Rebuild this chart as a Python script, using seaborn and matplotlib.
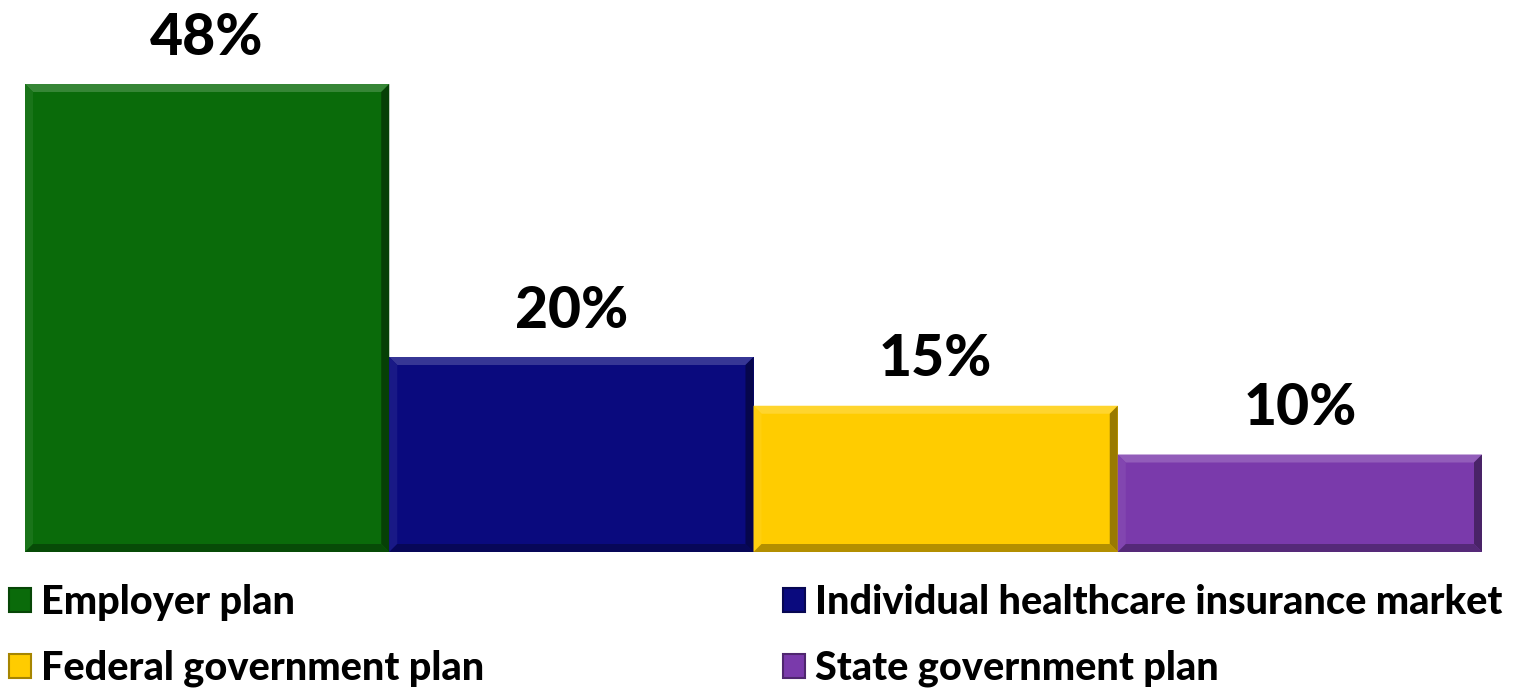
import matplotlib
matplotlib.use("Agg")
import matplotlib.pyplot as plt
import matplotlib.colors as mcolors
from matplotlib.patches import Polygon, Rectangle
import seaborn as sns
import pandas as pd

categories = ["Employer plan", "Individual healthcare insurance market",
              "Federal government plan", "State government plan"]
values = [48, 20, 15, 10]
labels = ["48%", "20%", "15%", "10%"]
colors = ["#0a6b0a", "#0a0a7e", "#ffcc00", "#7a3aab"]

sns.set_theme(style="white")
plt.rcParams["font.family"] = ["Lato", "DejaVu Sans"]
plt.rcParams["text.color"] = "black"

W, H = 1517, 688
fig = plt.figure(figsize=(W / 100, H / 100), dpi=100)
ax = fig.add_axes([25 / W, (H - 552) / H, 1457 / W, (552 - 84) / H])

df = pd.DataFrame({"cat": categories, "val": values})
sns.barplot(data=df, x="cat", y="val", hue="cat", palette=colors,
            width=1.0, legend=False, ax=ax, saturation=1, edgecolor="none")
ax.set_ylim(0, 48)
ax.set_xlim(-0.5, len(categories) - 0.5)
ax.axis("off")

# value labels above each bar
for i, (v, lab) in enumerate(zip(values, labels)):
    ax.annotate(lab, (i, v), xytext=(0, 14), textcoords="offset points",
                ha="center", va="bottom", fontsize=41, fontweight="black",
                clip_on=False, color="black")


def shade(c, f):
    r, g, b = mcolors.to_rgb(c)
    if f >= 0:
        return (r + (1 - r) * f, g + (1 - g) * f, b + (1 - b) * f)
    return (r * (1 + f), g * (1 + f), b * (1 + f))


def bevel(x0, y0, x1, y1, color, d):
    """Raised-bevel frame drawn inside a box given in display coords."""
    polys = [
        ([(x0, y1), (x1, y1), (x1 - d, y1 - d), (x0 + d, y1 - d)], 0.18),   # top
        ([(x0, y0), (x0, y1), (x0 + d, y1 - d), (x0 + d, y0 + d)], 0.06),   # left
        ([(x1, y0), (x1, y1), (x1 - d, y1 - d), (x1 - d, y0 + d)], -0.4),   # right
        ([(x0, y0), (x1, y0), (x1 - d, y0 + d), (x0 + d, y0 + d)], -0.3),   # bottom
    ]
    for pts, f in polys:
        fig.add_artist(Polygon(pts, closed=True, facecolor=shade(color, f),
                               edgecolor="none", transform=None, zorder=3))


fig.canvas.draw()
for patch, c in zip(ax.patches, colors):
    bb = patch.get_window_extent()
    bevel(bb.x0, bb.y0, bb.x1, bb.y1, c, 8)

# legend with small squares, two columns
order = [0, 2, 1, 3]
handles = [Rectangle((0, 0), 1, 1, facecolor=colors[i],
                     edgecolor=shade(colors[i], -0.35), linewidth=1.5)
           for i in order]
leg = fig.legend(handles, [categories[i] for i in order], ncol=2,
                 loc="upper left", bbox_to_anchor=(0.006, 0.151), frameon=False,
                 prop={"weight": "black", "size": 28.5}, handlelength=0.55,
                 handleheight=0.55, handletextpad=0.25, columnspacing=7.55,
                 labelspacing=0.72, borderaxespad=0, borderpad=0)

fig.savefig("out.png", dpi=100, facecolor="white")
